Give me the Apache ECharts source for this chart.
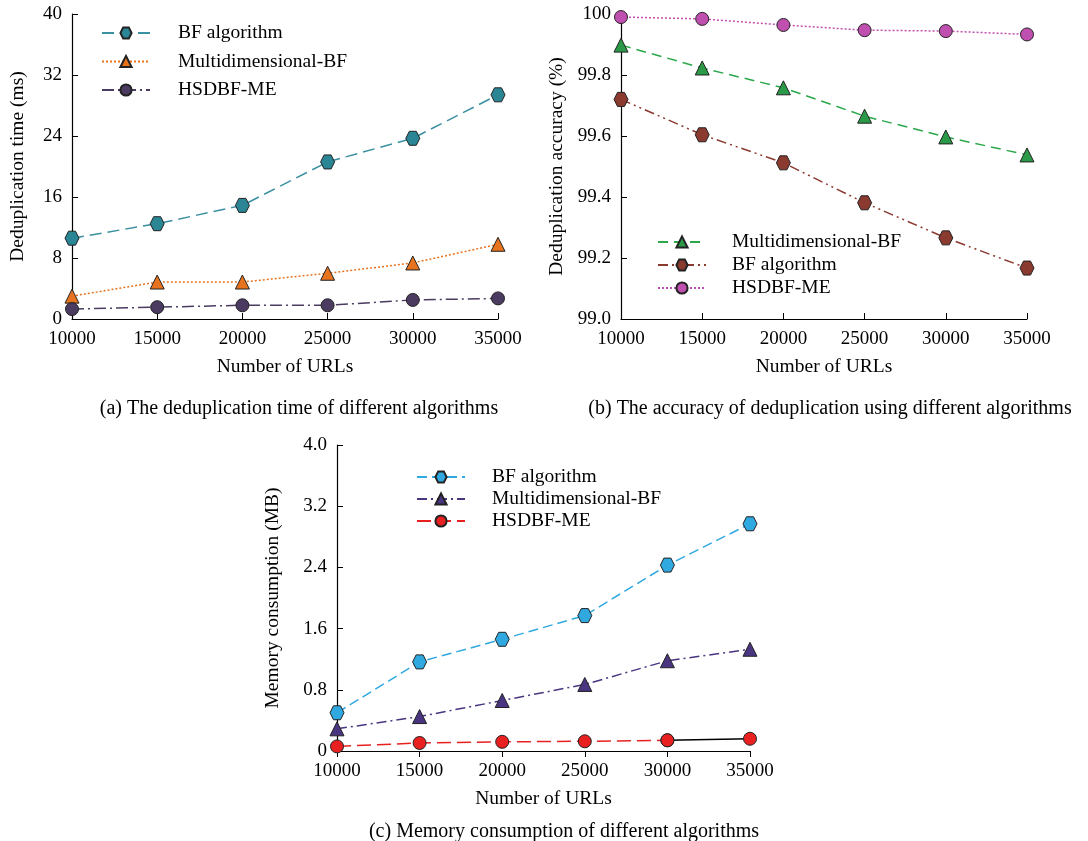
<!DOCTYPE html>
<html lang="en">
<head>
<meta charset="UTF-8">
<title>Deduplication charts</title>
<script src="https://cdn.jsdelivr.net/npm/echarts@6/dist/echarts.min.js"></script>
<style>
  html, body { margin: 0; padding: 0; background: #fff; }
</style>
</head>
<body>
<div id="main" style="width:1088px;height:841px;"></div>
<script type="text/javascript">
    // x categories (number of URLs)
    var urls = ['10000', '15000', '20000', '25000', '30000', '35000'];

    // (a) deduplication time, ms
    var timeBF = [10.6, 12.5, 14.9, 20.6, 23.7, 29.4];
    var timeMulti = [3.0, 4.85, 4.85, 6.0, 7.35, 9.8];
    var timeHS = [1.3, 1.55, 1.8, 1.8, 2.5, 2.7];

    // (b) deduplication accuracy, %
    var accMulti = [99.898, 99.823, 99.758, 99.665, 99.597, 99.538];
    var accBF = [99.72, 99.604, 99.512, 99.381, 99.266, 99.167];
    var accHS = [99.99, 99.984, 99.964, 99.947, 99.944, 99.933];

    // (c) memory consumption, MB
    var memBF = [0.50, 1.165, 1.46, 1.77, 2.43, 2.97];
    var memMulti = [0.29, 0.45, 0.66, 0.87, 1.18, 1.33];
    var memHS = [0.06, 0.105, 0.12, 0.127, 0.14, 0.16];

    var font = 'Liberation Serif';
    var hexagon = 'path://M25,6.7 L75,6.7 L100,50 L75,93.3 L25,93.3 L0,50 Z';
    var edge = '#222';

    var myChart = echarts.init(document.getElementById('main'));

    function xAx(idx, tickInside) {
        return {
            type: 'category', gridIndex: idx, data: urls, boundaryGap: false,
            name: 'Number of URLs', nameLocation: 'middle', nameGap: 38,
            nameTextStyle: { fontFamily: font, fontSize: 19.5, color: '#000' },
            axisLine: { lineStyle: { color: '#000', width: 1.2 } },
            axisTick: { inside: tickInside, length: 6, lineStyle: { color: '#000' } },
            axisLabel: { fontFamily: font, fontSize: 19, color: '#000', margin: 11 },
            splitLine: { show: false }
        };
    }
    function yAx(idx, name, min, max, interval, fmt, gap) {
        return {
            type: 'value', gridIndex: idx, min: min, max: max, interval: interval,
            name: name, nameLocation: 'middle', nameGap: gap,
            nameTextStyle: { fontFamily: font, fontSize: 19.5, color: '#000' },
            axisLine: { show: true, lineStyle: { color: '#000', width: 1.2 } },
            axisTick: { show: true, inside: true, length: 6, lineStyle: { color: '#000' } },
            axisLabel: { fontFamily: font, fontSize: 19, color: '#000', margin: 10, formatter: fmt },
            splitLine: { show: false }
        };
    }
    function line(name, idx, data, color, fill, symbol, dash, size) {
        return {
            name: name, type: 'line', xAxisIndex: idx, yAxisIndex: idx, data: data,
            symbol: symbol, symbolSize: size || 14,
            lineStyle: { color: color, width: 1.5, type: dash },
            itemStyle: { color: fill, borderColor: edge, borderWidth: 1 },
            emphasis: { disabled: true }
        };
    }
    function legend(x, y, names, gap, pad) {
        return {
            left: x, top: y, orient: 'vertical', data: names, padding: 0,
            itemWidth: 48, itemHeight: 14, itemGap: gap,
            textStyle: { fontFamily: font, fontSize: 19.5, lineHeight: 20, color: '#000', padding: [0, 0, 0, pad] }
        };
    }
    var captionStyle = { fontFamily: font, fontSize: 20, fontWeight: 'normal', color: '#000' };

    var option = {
        animation: false,
        grid: [
            { left: 72, top: 14, width: 426, height: 305 },
            { left: 621, top: 14, width: 406, height: 305 },
            { left: 337, top: 445, width: 413, height: 306 }
        ],
        xAxis: [xAx(0, true), xAx(1, true), xAx(2, false)],
        yAxis: [
            yAx(0, 'Deduplication time (ms)', 0, 40, 8, null, 44),
            yAx(1, 'Deduplication accuracy (%)', 99.0, 100, 0.2, function (v) {
                return Math.abs(v - 100) < 1e-6 ? '100' : v.toFixed(1);
            }, 54),
            yAx(2, 'Memory consumption (MB)', 0, 4, 0.8, function (v) {
                return v === 0 ? '0' : v.toFixed(1);
            }, 54)
        ],
        legend: [
            legend(101, 23, ['BF algorithm', 'Multidimensional-BF', 'HSDBF-ME'], 8.5, 23),
            legend(657, 232, ['Multidimensional-BF ', 'BF algorithm ', 'HSDBF-ME '], 3, 21),
            legend(416, 467, ['BF algorithm  ', 'Multidimensional-BF  ', 'HSDBF-ME  '], 2, 22)
        ],
        title: [
            { text: '(a) The deduplication time of different algorithms', left: 294, top: 394, textAlign: 'center', textStyle: captionStyle },
            { text: '(b) The accuracy of deduplication using different algorithms', left: 825, top: 394, textAlign: 'center', textStyle: captionStyle },
            { text: '(c) Memory consumption of different algorithms', left: 559, top: 817, textAlign: 'center', textStyle: captionStyle }
        ],
        series: [
            line('BF algorithm', 0, timeBF, '#3a8fa0', '#2a8595', hexagon, [12, 6]),
            line('Multidimensional-BF', 0, timeMulti, '#e8731f', '#e8731f', 'triangle', [2, 2]),
            line('HSDBF-ME', 0, timeHS, '#4b3b60', '#4b3b60', 'circle', [12, 4, 2, 4], 13),

            line('Multidimensional-BF ', 1, accMulti, '#2aa84a', '#2a9a48', 'triangle', [10, 6]),
            line('BF algorithm ', 1, accBF, '#8b3a30', '#8b3a30', hexagon, [10, 4, 2, 4, 2, 4]),
            line('HSDBF-ME ', 1, accHS, '#c050b0', '#c050b0', 'circle', [2, 2], 13),

            line('BF algorithm  ', 2, memBF, '#30a8e0', '#30a8e0', hexagon, [10, 5]),
            line('Multidimensional-BF  ', 2, memMulti, '#4a3580', '#4a3580', 'triangle', [10, 4, 2, 4]),
            // red dashed part of HSDBF-ME in (c), up to 30000
            line('HSDBF-ME  ', 2, memHS.slice(0, 5), '#e82020', '#e82020', 'circle', [14, 6], 13),
            // the last segment of HSDBF-ME in (c) is solid black in the original
            {
                type: 'line', xAxisIndex: 2, yAxisIndex: 2, symbol: 'circle', symbolSize: 13,
                data: memHS.map(function (v, i) { return i >= 4 ? v : null; }),
                lineStyle: { color: '#000', width: 1.5 },
                itemStyle: { color: '#e82020', borderColor: edge, borderWidth: 1 },
                emphasis: { disabled: true }
            }
        ]
    };

    myChart.setOption(option);
</script>
</body>
</html>
